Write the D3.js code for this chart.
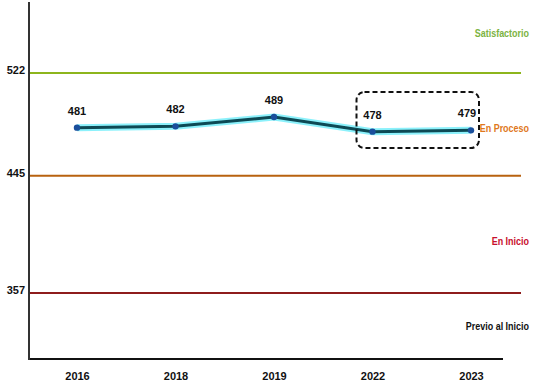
<!DOCTYPE html>
<html>
<head>
<meta charset="utf-8">
<script src="https://cdn.jsdelivr.net/npm/d3@7"></script>
<style>
body { margin: 0; background: #fff; }
text { font-family: "Liberation Sans", Arial, sans-serif; font-weight: bold; }
</style>
</head>
<body>
<div id="container"></div>
<script>
var WIDTH = 542, HEIGHT = 386;

var years = ['2016', '2018', '2019', '2022', '2023'];
var scores = [481, 482, 489, 478, 479];
var cutValues = [522, 445, 357];
var cutColors = ['#8db51c', '#b8620f', '#8e1c1c'];
var levelNames = ['Satisfactorio', 'En Proceso', 'En Inicio', 'Previo al Inicio'];
var levelValues = [552, 481, 396, 332];
var levelColors = ['#7cb342', '#e0781c', '#c8102e', '#111'];
var boxYears = ['2022', '2023'];

var xScale = d3.scalePoint().domain(years).range([77, 471]);
var yScale = d3.scaleLinear().domain([307.5, 576.75]).range([359, 0]);

var translate = function (x, y) {
	return "translate(" + x + "," + y + ")";
};

function drawAxes(svg) {
	var xAxis = d3.axisBottom(xScale).tickSize(0).tickPadding(13);
	var gx = svg.append('g').attr('transform', translate(0, 359)).call(xAxis);
	gx.select('.domain').remove();
	gx.selectAll('text').attr('font-size', 11).attr('fill', '#111');
	svg.append('line')
		.attr('x1', 28).attr('x2', 503).attr('y1', 359).attr('y2', 359)
		.attr('stroke', '#111').attr('stroke-width', 2.2);

	var yAxis = d3.axisLeft(yScale).tickValues(cutValues).tickSize(0).tickPadding(3);
	var gy = svg.append('g').attr('transform', translate(28, 0)).call(yAxis);
	gy.select('.domain').remove();
	gy.selectAll('text').attr('font-size', 11).attr('fill', '#111').attr('dy', '0.05em');
	svg.append('line')
		.attr('x1', 29).attr('x2', 29).attr('y1', 2).attr('y2', 360)
		.attr('stroke', '#333').attr('stroke-width', 2);
}

function drawCuts(svg) {
	svg.selectAll('.cut').data(cutValues).enter()
		.append('line')
		.attr('x1', 30).attr('x2', 521)
		.attr('y1', function(d){return yScale(d)})
		.attr('y2', function(d){return yScale(d)})
		.attr('stroke', function(d, i){return cutColors[i]})
		.attr('stroke-width', 2);
	svg.selectAll('.level').data(levelNames).enter()
		.append('text')
		.attr('transform', function(d, i){return translate(529, yScale(levelValues[i])) + ' scale(0.78,1)'})
		.attr('dy', '0.35em')
		.attr('text-anchor', 'end')
		.attr('font-size', 11.5)
		.attr('fill', function(d, i){return levelColors[i]})
		.text(function(d){return d});
}

function drawLine(svg) {
	var data = years.map(function(y, i){return {year: y, value: scores[i]}});
	var line = d3.line()
		.x(function(d){return xScale(d.year)})
		.y(function(d){return yScale(d.value)});
	svg.append('path').attr('d', line(data))
		.attr('fill', 'none').attr('stroke', '#2ee6f7').attr('stroke-width', 7).attr('opacity', 0.55);
	svg.append('path').attr('d', line(data))
		.attr('fill', 'none').attr('stroke', '#0d4a55').attr('stroke-width', 3);
	svg.selectAll('circle').data(data).enter()
		.append('circle')
		.attr('cx', function(d){return xScale(d.year)})
		.attr('cy', function(d){return yScale(d.value)})
		.attr('r', 3.2)
		.attr('fill', '#1a4f9c');
	svg.selectAll('.val').data(data).enter()
		.append('text')
		.attr('x', function(d, i){return xScale(d.year) + (i == data.length - 1 ? -4 : 0)})
		.attr('y', function(d){return yScale(d.value) - 17})
		.attr('dy', '0.35em')
		.attr('text-anchor', 'middle')
		.attr('font-size', 11)
		.attr('fill', '#111')
		.text(function(d){return d.value});

	var x0 = xScale(boxYears[0]) - 16, x1 = xScale(boxYears[1]) + 8;
	svg.append('rect')
		.attr('x', x0).attr('y', 92)
		.attr('width', x1 - x0).attr('height', 56)
		.attr('rx', 8).attr('ry', 8)
		.attr('fill', 'none').attr('stroke', '#111')
		.attr('stroke-width', 2).attr('stroke-dasharray', '5,3');
}

function drawChart() {
	var svg = d3.select('#container')
		.append('svg')
		.attr('width', WIDTH)
		.attr('height', HEIGHT);
	drawCuts(svg);
	drawAxes(svg);
	drawLine(svg);
}

window.onload = function(){
	drawChart();
}
</script>
</body>
</html>
